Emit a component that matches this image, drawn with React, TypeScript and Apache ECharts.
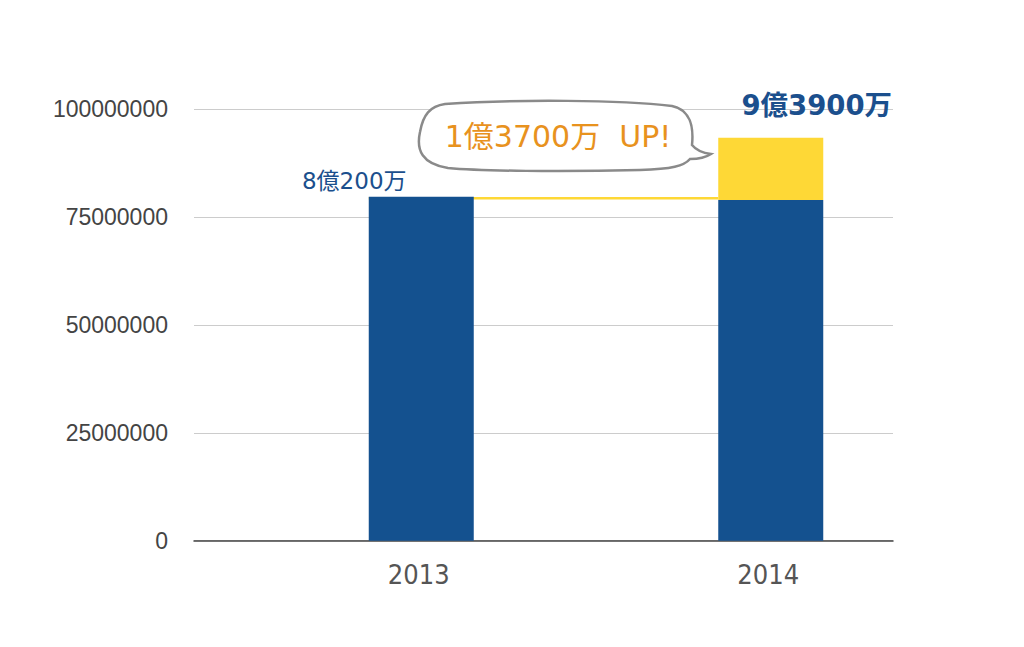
import React, { useEffect, useRef } from "react";
import * as echarts from "echarts";

const categories = ["2013", "2014"];
const baseValues = [79700000, 79000000];
const increaseValues = [null, 14400000];
const connectorValues = [79400000, 79400000];
const spacerValues = [0, 0];
const yTicks = { min: 0, max: 100000000, interval: 25000000 };
const labelSmall = "8億200万";
const labelBig = "9億3900万";
const bubbleText = "1億3700万  UP!";

const BLUE = "#14518F";
const YELLOW = "#FED836";
const LABEL_BLUE = "#1B4F8D";
const ORANGE = "#E8921E";

const bubblePath =
  "M 445 104 C 520 99, 620 100, 672 106 C 690 110, 694 125, 692 145 C 696 150, 703 153, 711 154 C 705 158, 698 159, 690 159 C 684 166, 672 169, 640 170 C 560 172, 480 171, 448 168 C 422 164, 416 150, 420 132 C 423 115, 430 106, 445 104 Z";

let registered = false;

export default function App() {
  const ref = useRef<HTMLDivElement>(null);
  useEffect(() => {
    if (!ref.current) return;
    if (!registered) {
      echarts.graphic.registerShape("bubble", echarts.graphic.extendPath(bubblePath, {}));
      registered = true;
    }
    const chart = echarts.init(ref.current, null, { renderer: "svg" });
    chart.setOption({
      animation: false,
      grid: { left: 194, right: 131, top: 109.3, bottom: 106.3, containLabel: false },
      xAxis: {
        type: "category",
        data: categories,
        axisLine: { lineStyle: { color: "#444", width: 1.5 } },
        axisTick: { show: false },
        axisLabel: {
          color: "#555",
          fontSize: 27,
          fontFamily: "'DejaVu Sans Condensed', 'DejaVu Sans', sans-serif",
          margin: 20,
          padding: [0, 0, 0, 100],
        },
      },
      yAxis: {
        type: "value",
        min: yTicks.min,
        max: yTicks.max,
        interval: yTicks.interval,
        axisLine: { show: false },
        axisTick: { show: false },
        splitLine: { lineStyle: { color: "#cccccc", width: 1 } },
        axisLabel: {
          color: "#444",
          fontSize: 23,
          fontFamily: "'Liberation Sans', Arial, sans-serif",
          margin: 26,
          formatter: (v: number) => String(v),
        },
      },
      series: [
        {
          type: "line",
          data: connectorValues,
          symbol: "none",
          z: 1,
          silent: true,
          lineStyle: { color: YELLOW, width: 2.5 },
        },
        {
          type: "bar",
          name: "spacer",
          stack: "spacer",
          data: spacerValues,
          barWidth: 105,
          barGap: "0%",
          z: 2,
          silent: true,
          itemStyle: { color: "transparent" },
        },
        {
          type: "bar",
          name: "base",
          stack: "total",
          barWidth: 105,
          barGap: "0%",
          z: 2,
          itemStyle: { color: BLUE },
          data: baseValues.map((v, i) =>
            i === 0
              ? {
                  value: v,
                  label: {
                    show: true,
                    position: "top",
                    distance: 4,
                    offset: [-67, 0],
                    formatter: labelSmall,
                    color: LABEL_BLUE,
                    fontSize: 23,
                    fontFamily: "'DejaVu Sans', 'Noto Sans CJK JP', sans-serif",
                  },
                }
              : { value: v }
          ),
        },
        {
          type: "bar",
          name: "increase",
          stack: "total",
          barWidth: 105,
          barGap: "0%",
          z: 2,
          itemStyle: { color: YELLOW },
          data: increaseValues.map((v, i) =>
            i === 1
              ? {
                  value: v,
                  label: {
                    show: true,
                    position: "top",
                    distance: 19,
                    offset: [46, 0],
                    formatter: labelBig,
                    color: LABEL_BLUE,
                    fontSize: 27.5,
                    fontWeight: "bold",
                    fontFamily: "'DejaVu Sans', 'Noto Sans CJK JP', sans-serif",
                  },
                }
              : { value: v }
          ),
        },
      ],
      graphic: [
        {
          type: "bubble",
          x: 0,
          y: 0,
          z: 10,
          style: { fill: "#ffffff", stroke: "#8a8a8a", lineWidth: 2.5 },
        },
        {
          type: "text",
          x: 558,
          y: 136,
          z: 11,
          style: {
            text: bubbleText,
            fill: ORANGE,
            fontSize: 30,
            fontFamily: "'DejaVu Sans', 'Noto Sans CJK JP', sans-serif",
            align: "center",
            verticalAlign: "middle",
          },
        },
      ],
    });
    return () => chart.dispose();
  }, []);
  return (
    <div
      ref={ref}
      style={{ position: "absolute", left: 0, top: 0, width: 1024, height: 647, background: "#fff" }}
    />
  );
}
